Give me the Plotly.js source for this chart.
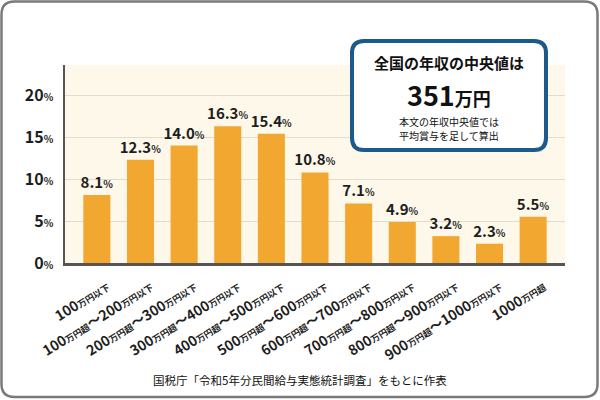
<!DOCTYPE html>
<html>
<head>
<meta charset="utf-8">
<script src="https://cdn.plot.ly/plotly-3.0.1.min.js"></script>
<style>
  body { margin: 0; background: #fff; }
  #myDiv { width: 600px; height: 400px; }
</style>
</head>
<body>
<div id="myDiv"></div>
<script>
var categories = ['100万円以下', '100万円超～200万円以下', '200万円超～300万円以下',
  '300万円超～400万円以下', '400万円超～500万円以下', '500万円超～600万円以下',
  '600万円超～700万円以下', '700万円超～800万円以下', '800万円超～900万円以下',
  '900万円超～1000万円以下', '1000万円超'];
var shares = [8.1, 12.3, 14.0, 16.3, 15.4, 10.8, 7.1, 4.9, 3.2, 2.3, 5.5];
var yTicks = [0, 5, 10, 15, 20];

var font = '"Noto Sans CJK JP", "Noto Sans", sans-serif';
var pct = '<span style="font-size:10px">%</span>';

// kanji part of the labels is drawn smaller than the numbers
function smallKanji(label) {
  return label.replace(/(万円[^0-9～]*)/g, '<span style="font-size:9px">$1</span>');
}

var xs = [];
for (let i = 0; i < categories.length; i++) {
  xs.push(i);
}

var trace = {
  x: xs,
  y: shares,
  type: 'bar',
  marker: { color: '#f2a830' },
  text: shares.map(function (v) { return v.toFixed(1) + pct; }),
  textposition: 'outside',
  constraintext: 'none',
  textfont: { family: font, size: 15, color: '#1e1e1e', weight: 'bold' },
  cliponaxis: false,
  hoverinfo: 'none'
};

// helper for a rounded rectangle in paper units (rx, ry are radii in paper units)
function roundRect(x0, y0, x1, y1, rx, ry) {
  return 'M' + (x0 + rx) + ',' + y1 +
    ' L' + (x1 - rx) + ',' + y1 +
    ' Q' + x1 + ',' + y1 + ' ' + x1 + ',' + (y1 - ry) +
    ' L' + x1 + ',' + (y0 + ry) +
    ' Q' + x1 + ',' + y0 + ' ' + (x1 - rx) + ',' + y0 +
    ' L' + (x0 + rx) + ',' + y0 +
    ' Q' + x0 + ',' + y0 + ' ' + x0 + ',' + (y0 + ry) +
    ' L' + x0 + ',' + (y1 - ry) +
    ' Q' + x0 + ',' + y1 + ' ' + (x0 + rx) + ',' + y1 + ' Z';
}

// plot area is 500 x 198 px, so convert pixels into paper units
var pw = 500, ph = 198, ml = 65, mt = 65;
function px(x) { return (x - ml) / pw; }
function py(y) { return (mt + ph - y) / ph; }

function note(x, y, text, size, bold) {
  return {
    xref: 'paper', yref: 'paper', x: px(x), y: py(y),
    xanchor: 'center', yanchor: 'middle',
    text: text, showarrow: false,
    font: { family: font, size: size, color: '#111', weight: bold ? 'bold' : 'normal' }
  };
}

var layout = {
  width: 600,
  height: 400,
  margin: { l: ml, r: 35, t: mt, b: 137 },
  paper_bgcolor: '#ffffff',
  plot_bgcolor: '#fdf8e9',
  showlegend: false,
  bargap: 0.38,
  font: { family: font, color: '#1e1e1e' },
  xaxis: {
    range: [-0.73, 10.73],
    tickvals: xs,
    ticktext: categories.map(smallKanji),
    tickangle: -32,
    tickfont: { family: font, size: 14, color: '#1e1e1e', weight: 'bold' },
    ticklabelshift: 10,
    ticklabelstandoff: 8,
    showline: true,
    linecolor: '#555555',
    linewidth: 2.5,
    showgrid: false,
    zeroline: false,
    ticks: ''
  },
  yaxis: {
    range: [0, 23.6],
    tickvals: yTicks,
    ticktext: yTicks.map(function (v) { return v + pct; }),
    tickfont: { family: font, size: 16, color: '#1e1e1e', weight: 'bold' },
    ticklabelstandoff: 6,
    showline: true,
    linecolor: '#555555',
    linewidth: 2.5,
    gridcolor: '#e3dccd',
    gridwidth: 1,
    zeroline: false,
    ticks: ''
  },
  shapes: [
    {
      type: 'path', xref: 'paper', yref: 'paper', layer: 'above',
      path: roundRect(px(1.5), py(397), px(597.5), py(1.5), 13 / pw, 13 / ph),
      line: { color: '#7a7a7a', width: 2.5 },
      fillcolor: 'rgba(0,0,0,0)'
    },
    {
      type: 'path', xref: 'paper', yref: 'paper', layer: 'above',
      path: roundRect(px(352), py(150), px(546), py(41), 12 / pw, 12 / ph),
      line: { color: '#1b5a8a', width: 4 },
      fillcolor: '#ffffff'
    }
  ],
  annotations: [
    note(449, 62, '全国の年収の中央値は', 15, true),
    note(449, 94, '351<span style="font-size:18px">万円</span>', 27, true),
    note(449, 121, '本文の年収中央値では', 10, false),
    note(449, 135, '平均賞与を足して算出', 10, false),
    note(300, 380, '国税庁「令和5年分民間給与実態統計調査」をもとに作表', 11.5, false)
  ]
};

Plotly.newPlot('myDiv', [trace], layout, { displayModeBar: false, staticPlot: true });
</script>
</body>
</html>
